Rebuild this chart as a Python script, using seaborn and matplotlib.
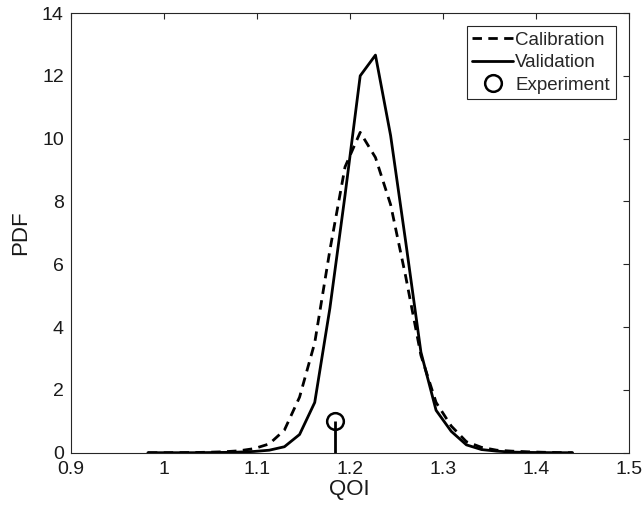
import numpy as np
import pandas as pd
import matplotlib
matplotlib.use("Agg")
import matplotlib.pyplot as plt
import seaborn as sns

# ---- data ----
qoi = [0.983, 0.9993, 1.0156, 1.0319, 1.0482, 1.0646, 1.0809, 1.0972, 1.1135,
       1.1298, 1.1461, 1.1624, 1.1787, 1.1950, 1.2113, 1.2277, 1.2440, 1.2603,
       1.2766, 1.2929, 1.3092, 1.3255, 1.3418, 1.3581, 1.3744, 1.3908, 1.4071,
       1.4234, 1.4397]
calibration = [0.0, 0.0, 0.003, 0.006, 0.015, 0.03, 0.06, 0.13, 0.28, 0.72,
               1.77, 3.5, 6.45, 9.1, 10.2, 9.4, 7.9, 5.6, 3.1, 1.6, 0.85, 0.35,
               0.17, 0.08, 0.05, 0.03, 0.015, 0.005, 0.0]
validation = [0.0, 0.0, 0.0, 0.0, 0.005, 0.01, 0.02, 0.04, 0.08, 0.19, 0.58,
              1.6, 4.6, 8.2, 12.0, 12.66, 10.1, 6.7, 3.2, 1.35, 0.68, 0.25,
              0.1, 0.05, 0.02, 0.01, 0.005, 0.0, 0.0]
experiment_x = [1.184]
experiment_y = [1.0]
xticks = [0.9, 1.0, 1.1, 1.2, 1.3, 1.4, 1.5]
xticklabels = ["0.9", "1", "1.1", "1.2", "1.3", "1.4", "1.5"]
yticks = [0, 2, 4, 6, 8, 10, 12, 14]

sns.set_theme(style="white")
plt.rcParams['font.family'] = ['Liberation Sans', 'DejaVu Sans']

fig = plt.figure(figsize=(6.44, 5.12), dpi=100)
ax = fig.add_axes([0.1098, 0.1158, 0.8664, 0.8588])

df = pd.DataFrame({"QOI": qoi, "Calibration": calibration, "Validation": validation})

sns.lineplot(data=df, x="QOI", y="Calibration", ax=ax, color="black", lw=2.0,
             linestyle=(0, (3.4, 2.3)), label="Calibration")
sns.lineplot(data=df, x="QOI", y="Validation", ax=ax, color="black", lw=2.0,
             label="Validation")
ax.vlines(experiment_x, 0, experiment_y, color="black", lw=2.0)
ax.plot(experiment_x, experiment_y, linestyle="none", marker="o", ms=12,
        mfc="none", mec="black", mew=1.8, label="Experiment")

ax.set_xlim(0.9, 1.5)
ax.set_ylim(0, 14)
ax.set_xticks(xticks)
ax.set_xticklabels(xticklabels)
ax.set_yticks(yticks)
ax.tick_params(direction="in", length=4, width=0.8, colors="#262626",
               labelsize=14, top=True, right=True)
ax.tick_params(axis="x", pad=6)
ax.tick_params(axis="y", pad=5)
for lab in ax.get_xticklabels() + ax.get_yticklabels():
    lab.set_color("#1a1a1a")
for s in ax.spines.values():
    s.set_color("#262626")
    s.set_linewidth(0.8)

ax.set_xlabel("QOI", fontsize=16, color="#1a1a1a", labelpad=1)
ax.set_ylabel("PDF", fontsize=16, color="#1a1a1a", labelpad=8)

leg = ax.legend(loc="upper right", fontsize=13.5, frameon=True, fancybox=False,
                framealpha=1, edgecolor="#262626", handlelength=2.2,
                handletextpad=0.1, labelspacing=0.28, borderpad=0.3,
                borderaxespad=0.7)
leg.get_frame().set_linewidth(0.8)

fig.savefig("out.png", dpi=100)
